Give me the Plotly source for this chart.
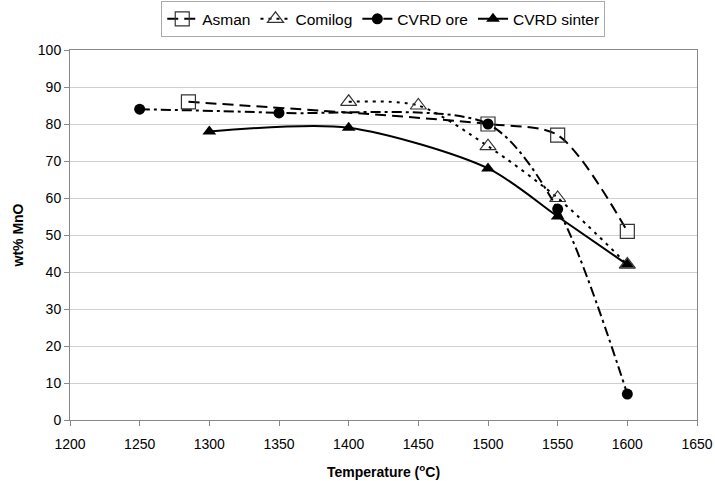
import plotly.graph_objects as go

asman_x = [1285, 1500, 1550, 1600]
asman_y = [86, 80, 77, 51]
comilog_x = [1400, 1450, 1500, 1550, 1600]
comilog_y = [86, 85, 74, 60, 42]
ore_x = [1250, 1350, 1500, 1550, 1600]
ore_y = [84, 83, 80, 57, 7]
sinter_x = [1300, 1400, 1500, 1550, 1600]
sinter_y = [78, 79, 68, 55, 42]

x_ticks = list(range(1200, 1651, 50))
y_ticks = list(range(0, 101, 10))

fig = go.Figure()
fig.add_trace(go.Scatter(x=asman_x, y=asman_y, name="Asman", mode="lines+markers",
    line=dict(color="black", width=2, dash="11px,6px", shape="spline", smoothing=0.8),
    marker=dict(symbol="square-open", size=14, color="#333", line=dict(width=1.2))))
fig.add_trace(go.Scatter(x=comilog_x, y=comilog_y, name="Comilog", mode="lines+markers",
    line=dict(color="black", width=2, dash="3px,5px", shape="spline", smoothing=0.8),
    marker=dict(symbol="triangle-up-open", size=14, color="#333", line=dict(width=1.2))))
fig.add_trace(go.Scatter(x=ore_x, y=ore_y, name="CVRD ore", mode="lines+markers",
    line=dict(color="black", width=2, dash="10px,4px,3px,4px", shape="spline", smoothing=0.8),
    marker=dict(symbol="circle", size=11, color="black")))
fig.add_trace(go.Scatter(x=sinter_x, y=sinter_y, name="CVRD sinter", mode="lines+markers",
    line=dict(color="black", width=2, shape="spline", smoothing=0.8),
    marker=dict(symbol="triangle-up", size=12, color="black")))

fig.update_layout(
    width=715, height=481,
    margin=dict(l=70, r=18, t=50, b=61, autoexpand=False),
    paper_bgcolor="white", plot_bgcolor="white",
    font=dict(family="Liberation Sans, Arial, sans-serif", size=14, color="black"),
    showlegend=True,
    hovermode=False,
    legend=dict(orientation="h", x=0.536, xanchor="center", xref="container",
                y=0.96, yanchor="middle", yref="container",
                bordercolor="#aaa", borderwidth=1, font=dict(size=15.5),
                itemwidth=30, tracegroupgap=0),
)
fig.update_xaxes(range=[1200, 1650], tickvals=x_ticks, showgrid=False, automargin=False,
    showline=True, linecolor="#888", linewidth=1, mirror=True,
    ticks="outside", ticklen=5, tickcolor="#888", ticklabelstandoff=6,
    title=dict(text="<b>Temperature (<sup>o</sup>C)</b>", font=dict(size=14), standoff=16))
fig.update_yaxes(range=[0, 100], tickvals=y_ticks, showgrid=True, gridcolor="#d0d0d0",
    automargin=False,
    showline=True, linecolor="#888", linewidth=1, mirror=True,
    ticks="outside", ticklen=5, tickcolor="#888", zeroline=False,
    title=dict(text="<b>wt% MnO</b>", font=dict(size=14), standoff=10))

fig.write_html("out.html", config={"displayModeBar": False},
               post_script="document.body.style.margin='0';document.body.style.overflow='hidden';")
